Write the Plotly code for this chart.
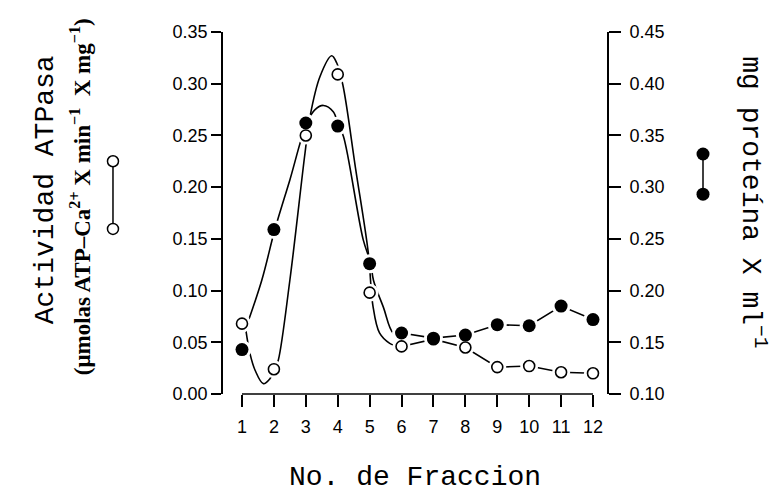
import plotly.graph_objects as go

# ---- data ----
fractions = [1, 2, 3, 4, 5, 6, 7, 8, 9, 10, 11, 12]
atpasa = [0.068, 0.024, 0.250, 0.309, 0.098, 0.046, 0.053, 0.045, 0.026, 0.027, 0.021, 0.020]          # open circles, left axis
proteina = [0.143, 0.259, 0.362, 0.359, 0.226, 0.159, 0.154, 0.157, 0.167, 0.166, 0.185, 0.172]        # filled circles, right axis

# hand-drawn smooth curves (control points)
atpasa_curve_x = [1.12, 1.25, 1.41, 1.67, 1.88, 2.03, 2.14, 2.5, 2.975, 3.13, 3.445, 3.81, 3.97, 4.16, 4.56, 4.96, 5.1, 5.31, 5.63, 5.95]
atpasa_curve_y = [0.062, 0.039, 0.023, 0.010, 0.015, 0.024, 0.033, 0.110, 0.233, 0.268, 0.307, 0.327, 0.320, 0.299, 0.218, 0.136, 0.086, 0.059, 0.049, 0.046]
proteina_curve_x = [1.1, 1.62, 2.03, 2.5, 3.03, 3.29, 3.55, 3.86, 4.03, 4.18, 4.8, 5.03, 5.12, 5.43, 5.74, 6.0]
proteina_curve_y = [0.162, 0.210, 0.259, 0.307, 0.362, 0.375, 0.379, 0.373, 0.359, 0.349, 0.249, 0.227, 0.210, 0.184, 0.159, 0.159]

seg_start = 5  # straight segments from fraction 6 onward

left_ticks = [0.00, 0.05, 0.10, 0.15, 0.20, 0.25, 0.30, 0.35]
right_ticks = [0.10, 0.15, 0.20, 0.25, 0.30, 0.35, 0.40, 0.45]
left_range = [0, 0.35]
right_range = [0.10, 0.45]

MONO = "Liberation Mono"
SANS = "Liberation Sans"
LW = 1.6

fig = go.Figure()

# layer y: atpasa curve + segments
fig.add_trace(go.Scatter(x=atpasa_curve_x, y=atpasa_curve_y, mode="lines",
                         line=dict(color="black", width=LW, shape="spline", smoothing=1.0),
                         yaxis="y", hoverinfo="skip"))
fig.add_trace(go.Scatter(x=fractions[seg_start:], y=atpasa[seg_start:], mode="lines",
                         line=dict(color="black", width=LW), yaxis="y"))
# layer y2: proteina curve + segments
fig.add_trace(go.Scatter(x=proteina_curve_x, y=proteina_curve_y, mode="lines",
                         line=dict(color="black", width=LW, shape="spline", smoothing=1.0),
                         yaxis="y2", hoverinfo="skip"))
fig.add_trace(go.Scatter(x=fractions[seg_start:], y=proteina[seg_start:], mode="lines",
                         line=dict(color="black", width=LW), yaxis="y2"))
# layers y3/y4: white halos around markers
fig.add_trace(go.Scatter(x=fractions, y=atpasa, mode="markers",
                         marker=dict(color="white", size=18, line=dict(width=0)), yaxis="y3"))
fig.add_trace(go.Scatter(x=fractions, y=proteina, mode="markers",
                         marker=dict(color="white", size=19, line=dict(width=0)), yaxis="y4"))
# layers y5/y6: markers
fig.add_trace(go.Scatter(x=fractions, y=atpasa, mode="markers",
                         marker=dict(symbol="circle", color="white", size=11,
                                     line=dict(color="black", width=1.6)), yaxis="y5"))
fig.add_trace(go.Scatter(x=fractions, y=proteina, mode="markers",
                         marker=dict(symbol="circle", color="black", size=13,
                                     line=dict(color="black", width=0)), yaxis="y6"))

# legend glyphs (paper coords) and x-axis baseline
shapes = [
    dict(type="line", xref="x", yref="paper", x0=fractions[0], x1=fractions[-1], y0=0, y1=0,
         line=dict(color="black", width=LW)),
    dict(type="line", xref="paper", yref="paper", x0=-0.2865, x1=-0.2865, y0=0.643, y1=0.456,
         line=dict(color="black", width=1.5)),
    dict(type="circle", xref="paper", yref="paper", xsizemode="pixel", ysizemode="pixel",
         xanchor=-0.2865, yanchor=0.643, x0=-5.5, x1=5.5, y0=-5.5, y1=5.5,
         fillcolor="white", line=dict(color="black", width=1.5)),
    dict(type="circle", xref="paper", yref="paper", xsizemode="pixel", ysizemode="pixel",
         xanchor=-0.2865, yanchor=0.456, x0=-5.5, x1=5.5, y0=-5.5, y1=5.5,
         fillcolor="white", line=dict(color="black", width=1.5)),
    dict(type="line", xref="paper", yref="paper", x0=1.25, x1=1.25, y0=0.663, y1=0.552,
         line=dict(color="black", width=1.5)),
    dict(type="circle", xref="paper", yref="paper", xsizemode="pixel", ysizemode="pixel",
         xanchor=1.25, yanchor=0.663, x0=-6.5, x1=6.5, y0=-6.5, y1=6.5,
         fillcolor="black", line=dict(color="black", width=0)),
    dict(type="circle", xref="paper", yref="paper", xsizemode="pixel", ysizemode="pixel",
         xanchor=1.25, yanchor=0.552, x0=-6.5, x1=6.5, y0=-6.5, y1=6.5,
         fillcolor="black", line=dict(color="black", width=0)),
]

annotations = [
    dict(text="Actividad ATPasa", xref="paper", yref="paper", x=-0.463, y=0.5635,
         textangle=-90, showarrow=False, font=dict(family=MONO, size=28, color="black"),
         xanchor="center", yanchor="middle"),
    dict(text="(\u03bcmolas ATP\u2013Ca<sup>2+</sup> X min<sup>\u22121</sup>\u00a0 X mg<sup>\u22121</sup>)",
         xref="paper", yref="paper", x=-0.372, y=0.544,
         textangle=-90, showarrow=False,
         font=dict(family="Liberation Serif", size=23, color="black", weight="bold"),
         xanchor="center", yanchor="middle"),
    dict(text="mg prote\u00edna X ml<sup>\u22121</sup>", xref="paper", yref="paper", x=1.38, y=0.53,
         textangle=90, showarrow=False, font=dict(family=MONO, size=28, color="black"),
         xanchor="center", yanchor="middle"),
    dict(text="No. de Fraccion", xref="paper", yref="paper", x=0.501, y=-0.232,
         showarrow=False, font=dict(family=MONO, size=28, color="black"),
         xanchor="center", yanchor="middle"),
]

hidden = dict(overlaying="y", visible=False, showgrid=False, zeroline=False)

fig.update_layout(
    width=783, height=499,
    margin=dict(l=223, r=176, t=32, b=105, pad=0),
    paper_bgcolor="white", plot_bgcolor="white",
    showlegend=False,
    shapes=shapes, annotations=annotations,
    xaxis=dict(range=[0.4046, 12.439], tickvals=fractions, ticktext=[str(f) for f in fractions],
               showline=False, showgrid=False, zeroline=False,
               ticks="outside", ticklen=12, tickwidth=LW, tickcolor="black",
               ticklabelstandoff=4,
               tickfont=dict(family=SANS, size=18, color="black")),
    yaxis=dict(range=left_range, tickvals=left_ticks, ticktext=[f"{v:.2f}" for v in left_ticks],
               showline=True, linecolor="black", linewidth=LW, showgrid=False, zeroline=False,
               ticks="outside", ticklen=10, tickwidth=LW, tickcolor="black",
               tickfont=dict(family=SANS, size=18, color="black")),
    yaxis2=dict(range=right_range, tickvals=right_ticks, ticktext=[f"{v:.2f}" for v in right_ticks],
                overlaying="y", side="right",
                showline=True, linecolor="black", linewidth=LW, showgrid=False, zeroline=False,
                ticks="outside", ticklen=12, tickwidth=LW, tickcolor="black",
                ticklabelstandoff=5,
                tickfont=dict(family=SANS, size=18, color="black")),
    yaxis3=dict(range=left_range, **hidden),
    yaxis4=dict(range=right_range, **hidden),
    yaxis5=dict(range=left_range, **hidden),
    yaxis6=dict(range=right_range, **hidden),
)

fig.write_html("out.html")
